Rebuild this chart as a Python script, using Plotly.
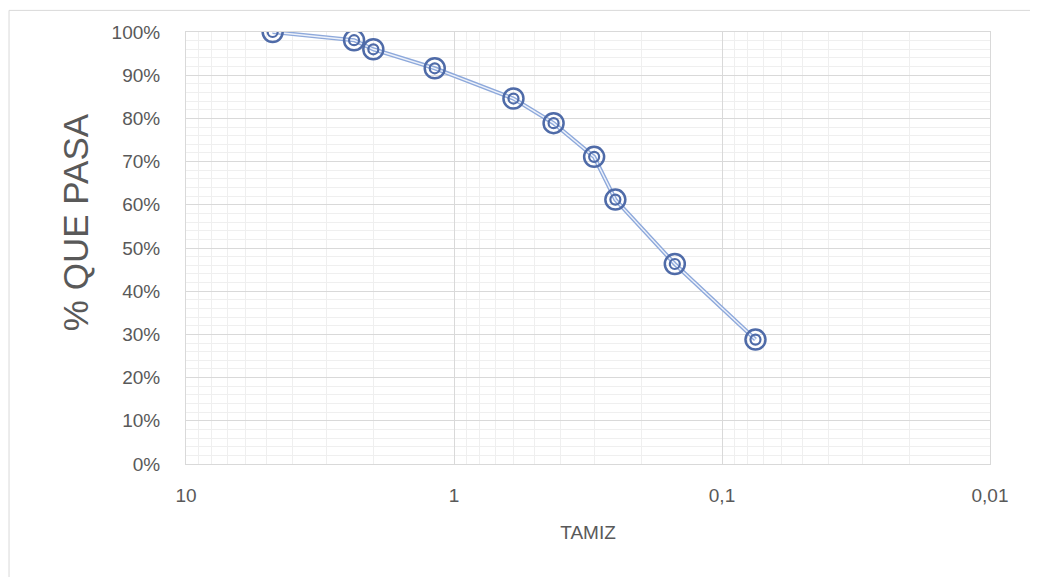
import plotly.graph_objects as go

tamiz = [4.75, 2.36, 2.0, 1.18, 0.6, 0.425, 0.3, 0.25, 0.15, 0.075]
pasa = [100.0, 98.1, 96.0, 91.6, 84.6, 78.9, 71.1, 61.2, 46.3, 28.8]

xticks = [10, 1, 0.1, 0.01]
xticktext = ["10", "1", "0,1", "0,01"]
yticks = [0, 10, 20, 30, 40, 50, 60, 70, 80, 90, 100]
yticktext = [f"{v}%" for v in yticks]

blue = "#4f6ba8"
font = "Liberation Sans"

fig = go.Figure()
# double line effect
fig.add_trace(go.Scatter(x=tamiz, y=pasa, mode="lines",
                         line=dict(color="#8ea9db", width=4.2), hoverinfo="skip", showlegend=False))
fig.add_trace(go.Scatter(x=tamiz, y=pasa, mode="lines",
                         line=dict(color="#eef2fa", width=1.4), hoverinfo="skip", showlegend=False))
# outer ring
fig.add_trace(go.Scatter(x=tamiz, y=pasa, mode="markers",
                         marker=dict(symbol="circle-open", size=20, color=blue, line=dict(width=2.5, color=blue)),
                         showlegend=False))
# inner ring
fig.add_trace(go.Scatter(x=tamiz, y=pasa, mode="markers",
                         marker=dict(symbol="circle-open", size=10, color=blue, line=dict(width=2.2, color=blue)),
                         showlegend=False))

fig.update_layout(
    width=1030, height=569,
    margin=dict(l=178, r=48, t=24, b=113),
    paper_bgcolor="white", plot_bgcolor="white",
    font=dict(family=font, color="#595959", size=16),
    separators=",.",
    shapes=[dict(type="rect", xref="paper", yref="paper", x0=-0.2201, x1=1.2, y0=-0.5, y1=1.05,
                 line=dict(color="#d9d9d9", width=1), layer="below")],
    annotations=[dict(text="% QUE PASA", xref="paper", yref="paper", x=-0.138, y=0.56,
                      xanchor="center", yanchor="middle", textangle=-90, showarrow=False,
                      font=dict(size=35, color="#595959", family=font))],
)
fig.update_xaxes(
    type="log", range=[1, -2],
    tickvals=xticks, ticktext=xticktext, tickfont=dict(size=19, color="#595959"),
    showgrid=True, gridcolor="#d9d9d9", gridwidth=1,
    minor=dict(showgrid=True, gridcolor="#efefef", gridwidth=1, dtick="D1"),
    showline=True, linecolor="#d9d9d9", mirror=True,
    ticks="", ticklabelstandoff=14,
    zeroline=False,
    title=dict(text="TAMIZ", font=dict(size=19, color="#595959"), standoff=20),
)
fig.update_yaxes(
    range=[0, 100], tickvals=yticks, ticktext=yticktext, tickfont=dict(size=19, color="#595959"),
    showgrid=True, gridcolor="#d9d9d9", gridwidth=1,
    minor=dict(showgrid=True, gridcolor="#efefef", gridwidth=1, dtick=2),
    showline=True, linecolor="#d9d9d9", mirror=True,
    ticks="", ticklabelstandoff=21, zeroline=False,
)

fig.write_html("out.html")
